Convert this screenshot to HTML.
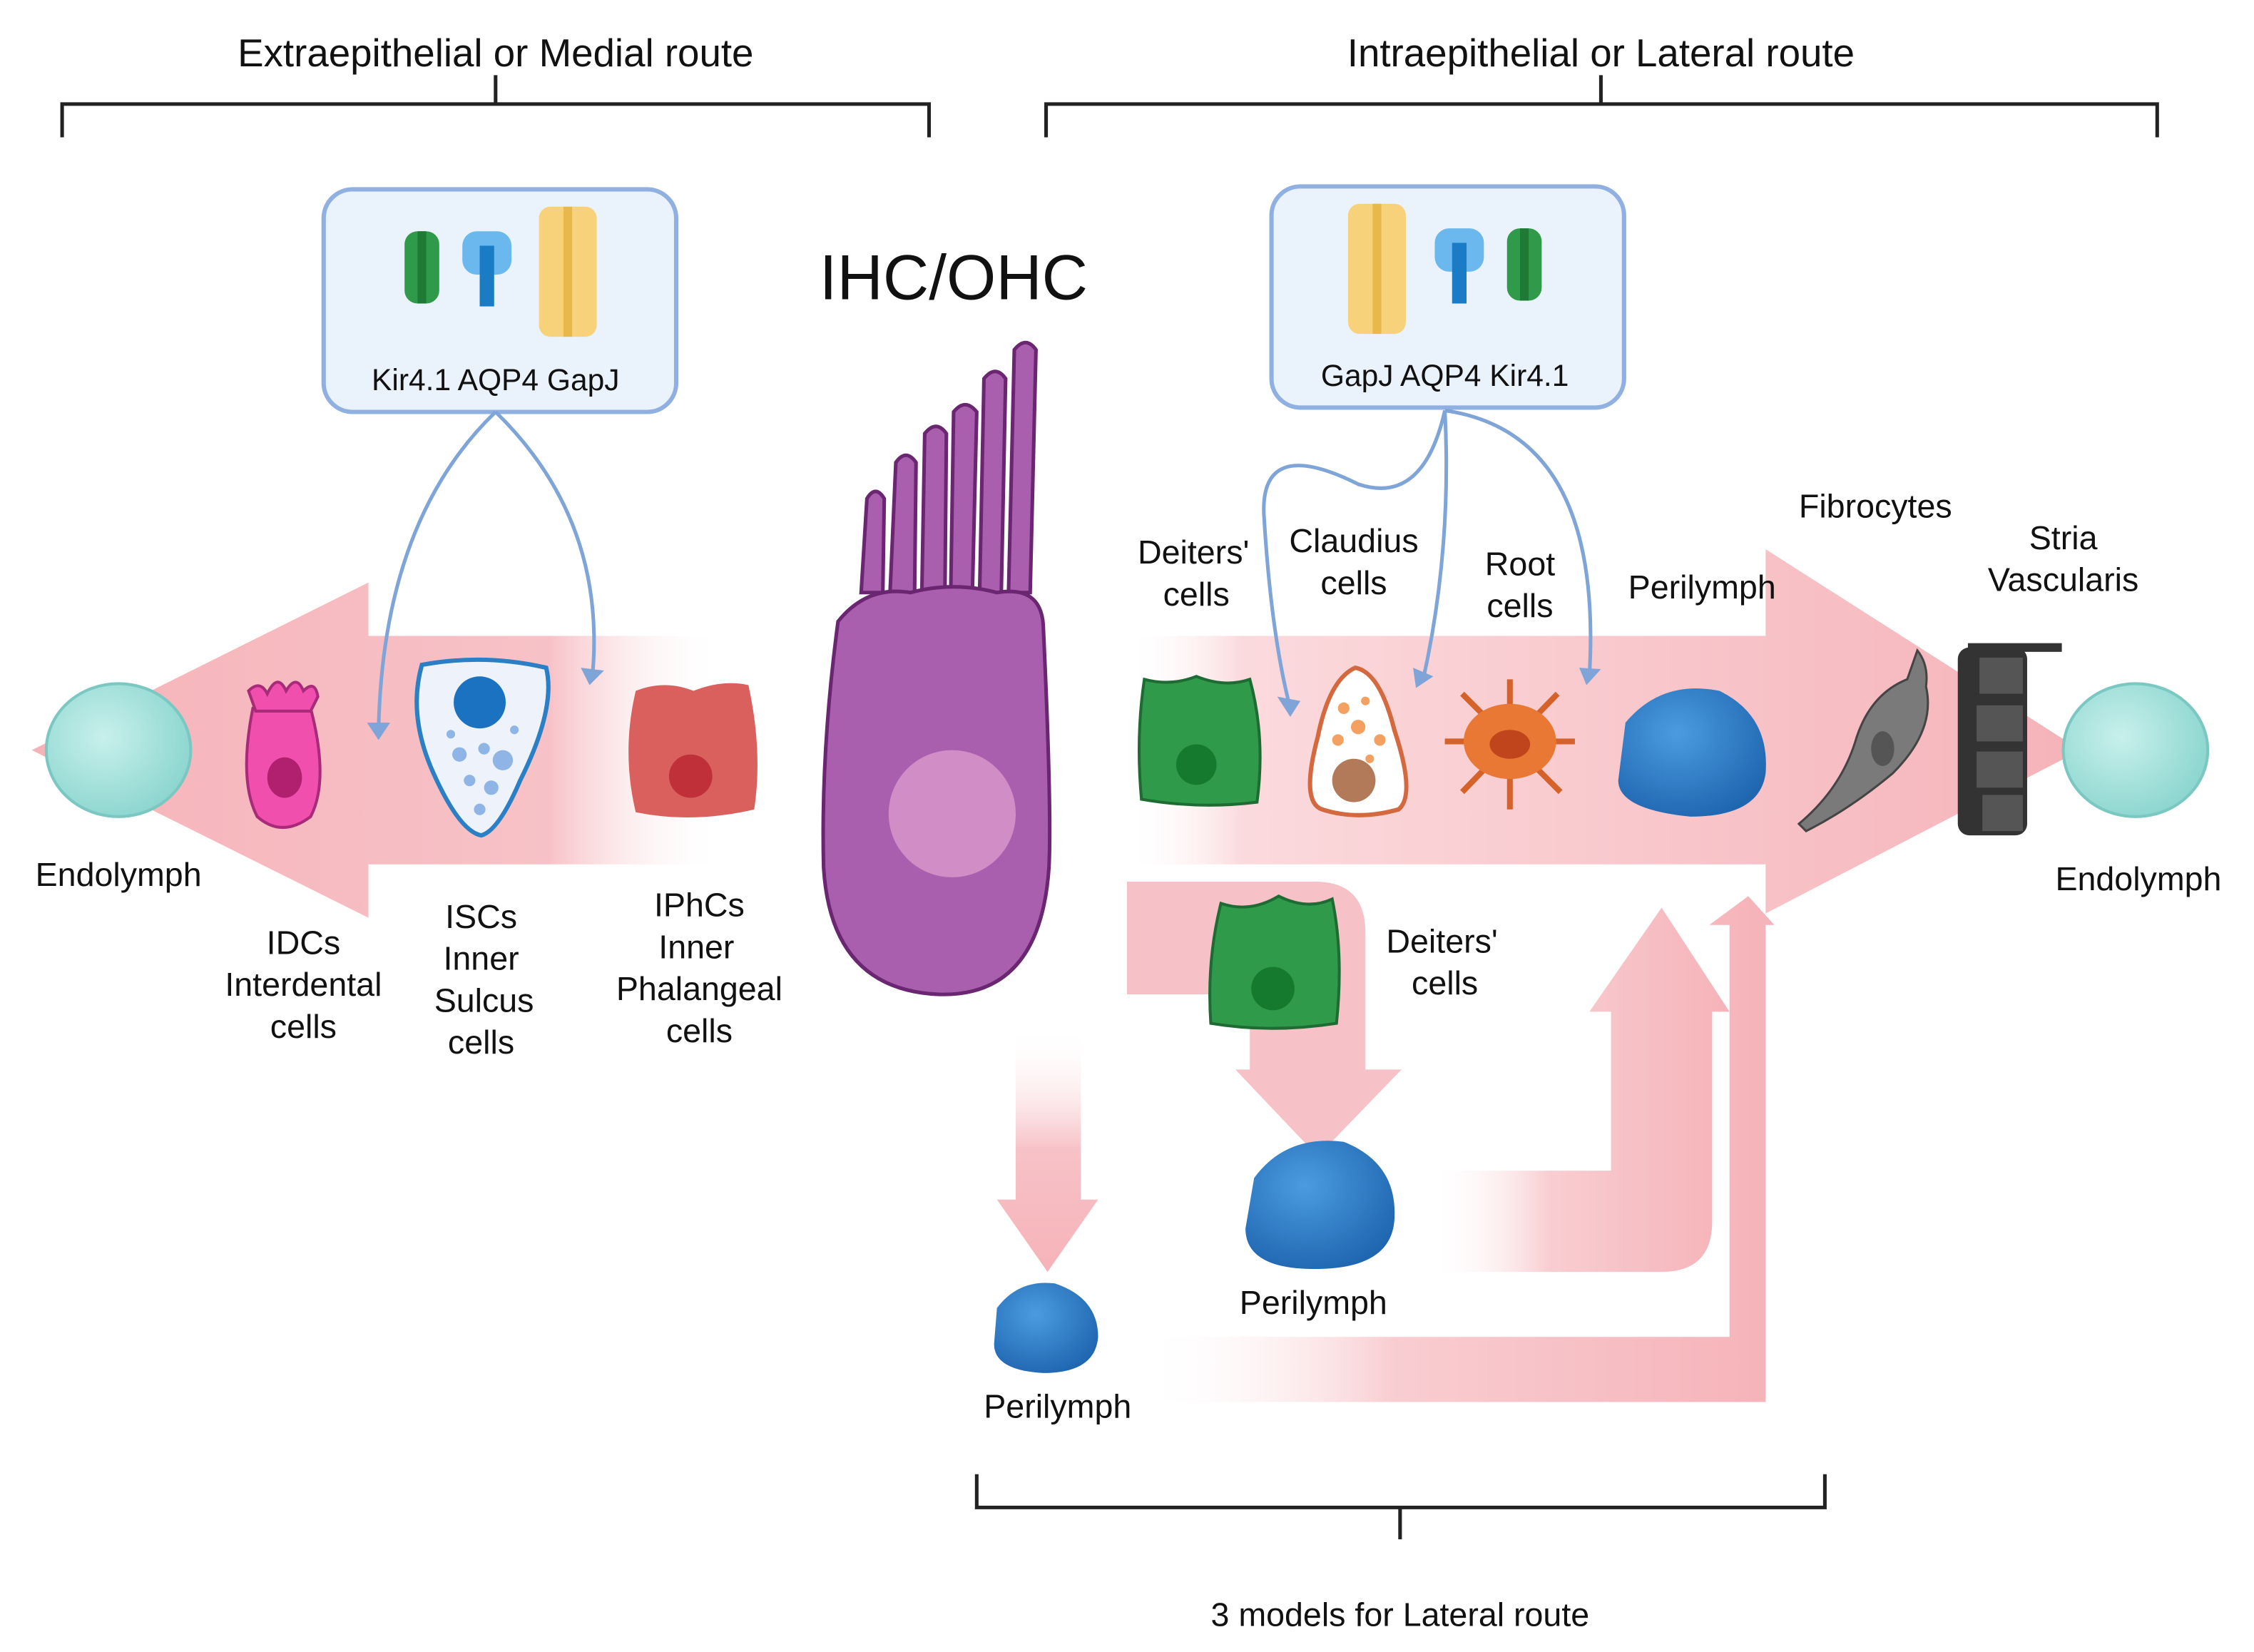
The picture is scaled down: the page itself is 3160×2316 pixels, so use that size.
<!DOCTYPE html>
<html><head><meta charset="utf-8"><style>
html,body{margin:0;padding:0;background:#fff}
svg{display:block}
text{font-family:"Liberation Sans",Arial,sans-serif;fill:#111}
</style></head><body>
<svg width="3160" height="2316" viewBox="0 0 1560 1143" preserveAspectRatio="none" xmlns="http://www.w3.org/2000/svg">
<defs>
<linearGradient id="gl" x1="0" x2="1" y1="0" y2="0"><stop offset="0" stop-color="#f5b3b9"/><stop offset="0.75" stop-color="#f7c2c7"/><stop offset="1" stop-color="#fff" stop-opacity="0"/></linearGradient>
<linearGradient id="gr" x1="0" x2="1" y1="0" y2="0"><stop offset="0" stop-color="#fff" stop-opacity="0"/><stop offset="0.12" stop-color="#fbdadd"/><stop offset="1" stop-color="#f5b3b9"/></linearGradient>
<linearGradient id="gv" x1="0" x2="0" y1="0" y2="1"><stop offset="0" stop-color="#fff" stop-opacity="0"/><stop offset="0.5" stop-color="#f7c2c7"/><stop offset="1" stop-color="#f5b3b9"/></linearGradient>
<linearGradient id="gh" x1="0" x2="1" y1="0" y2="0"><stop offset="0" stop-color="#fff" stop-opacity="0"/><stop offset="0.4" stop-color="#f8cdd1"/><stop offset="1" stop-color="#f5b3b9"/></linearGradient>
<radialGradient id="endo" cx="0.4" cy="0.4" r="0.7"><stop offset="0" stop-color="#c8f0ec"/><stop offset="1" stop-color="#86d3cc"/></radialGradient>
<radialGradient id="blue" cx="0.4" cy="0.35" r="0.7"><stop offset="0" stop-color="#4b9be0"/><stop offset="1" stop-color="#1f66b0"/></radialGradient>
</defs>
<!-- titles & brackets -->
<text x="343" y="46" font-size="27" text-anchor="middle">Extraepithelial or Medial route</text>
<path d="M43 95V72H643V95M343 72V52" fill="none" stroke="#222" stroke-width="2.5"/>
<text x="1108" y="46" font-size="27" text-anchor="middle">Intraepithelial or Lateral route</text>
<path d="M724 95V72H1493V95M1108 72V52" fill="none" stroke="#222" stroke-width="2.5"/>
<!-- left arrow -->
<path d="M500 440H255V403L22 519L255 635V598H500Z" fill="url(#gl)"/>
<!-- right arrow -->
<path d="M780 440H1222V380L1440 519L1222 632V598H780Z" fill="url(#gr)"/>
<!-- lower flows -->
<path d="M703 710H748V830H760L725 880L690 830H703Z" fill="url(#gv)"/>
<path d="M790 925H1197V640H1183L1210 620L1228 640H1222V970H790Z" fill="url(#gh)"/>
<path d="M780 610H910Q945 610 945 645V740H970L912 800L855 740H865V688H780Z" fill="#f7c2c7"/>
<path d="M990 810H1115V700H1100L1150 628L1197 700H1185V845Q1185 880 1150 880H990Z" fill="url(#gh)"/>
<!-- boxes -->
<rect x="224" y="131" width="244" height="154" rx="20" fill="#eaf2fb" stroke="#8fb0e0" stroke-width="3"/>
<rect x="880" y="129" width="244" height="153" rx="20" fill="#eaf2fb" stroke="#8fb0e0" stroke-width="3"/>
<text x="343" y="270" font-size="21" text-anchor="middle">Kir4.1 AQP4 GapJ</text>
<text x="1000" y="267" font-size="21" text-anchor="middle">GapJ AQP4 Kir4.1</text>
<!-- channel icons left -->
<g><rect x="280" y="160" width="24" height="50" rx="9" fill="#2f9a4a"/><rect x="289" y="160" width="6" height="50" fill="#1f7a36"/></g>
<g><rect x="320" y="160" width="34" height="30" rx="10" fill="#6ab8ee"/><rect x="332" y="170" width="10" height="42" fill="#1a7cc4"/></g>
<g><rect x="373" y="143" width="40" height="90" rx="8" fill="#f7d27a"/><rect x="390" y="143" width="6" height="90" fill="#e8b94a"/></g>
<!-- right -->
<g><rect x="933" y="141" width="40" height="90" rx="8" fill="#f7d27a"/><rect x="950" y="141" width="6" height="90" fill="#e8b94a"/></g>
<g><rect x="993" y="158" width="34" height="30" rx="10" fill="#6ab8ee"/><rect x="1005" y="168" width="10" height="42" fill="#1a7cc4"/></g>
<g><rect x="1043" y="158" width="24" height="50" rx="9" fill="#2f9a4a"/><rect x="1052" y="158" width="6" height="50" fill="#1f7a36"/></g>
<!-- connector curves -->
<g fill="none" stroke="#7ea4d8" stroke-width="2.5">
<path d="M343 285Q265 360 262 505"/><path d="M343 285Q420 360 410 468"/>
<path d="M1000 284Q985 350 940 335Q870 300 875 360Q880 440 893 490"/>
<path d="M1000 284Q1005 380 985 470"/>
<path d="M1000 284Q1110 300 1100 468"/>
</g>
<g fill="#7ea4d8"><path d="M254 500L270 500L262 512Z"/><path d="M402 462L418 464L408 474Z"/><path d="M884 482L900 485L893 496Z"/><path d="M978 462L992 468L980 476Z"/><path d="M1093 462L1108 463L1098 474Z"/></g>
<!-- IHC text & hair cell -->
<text x="660" y="207" font-size="44" text-anchor="middle">IHC/OHC</text>
<g fill="#aa5fae" stroke="#6a2670" stroke-width="2.5">
<path d="M596 410L600 345Q606 335 612 345L611 410Z"/><path d="M616 410L620 320Q627 310 634 320L633 410Z"/>
<path d="M638 410L640 300Q648 290 655 300L654 410Z"/><path d="M658 410L660 285Q668 275 676 285L673 410Z"/>
<path d="M678 410L681 262Q689 252 696 262L693 410Z"/><path d="M698 410L702 242Q710 232 717 242L713 410Z"/>
<path d="M580 430Q600 405 630 410Q660 402 690 410Q720 405 722 432Q728 560 726 600Q720 690 650 688Q575 685 570 600Q568 520 580 430Z"/>
</g>
<circle cx="659" cy="563" r="44" fill="#d08dc6"/>
<!-- left cells -->
<ellipse cx="82" cy="519" rx="50" ry="46" fill="url(#endo)" stroke="#7ac8c1" stroke-width="2"/>
<path d="M175 490Q165 540 178 565Q195 580 215 565Q228 540 215 490Z" fill="#f04fae" stroke="#a82a78" stroke-width="2"/>
<path d="M172 478Q180 470 185 480Q192 465 198 478Q205 466 210 478Q218 470 220 482L215 492L177 492Z" fill="#f04fae" stroke="#a82a78" stroke-width="2"/>
<ellipse cx="197" cy="538" rx="12" ry="14" fill="#b0206e"/>
<path d="M292 460Q335 452 378 462Q385 490 360 540Q345 575 333 578Q318 575 300 535Q282 495 292 460Z" fill="#eef3fb" stroke="#2b7fc4" stroke-width="3"/>
<circle cx="332" cy="486" r="18" fill="#1a72c0"/>
<g fill="#8fb4e6"><circle cx="318" cy="522" r="5"/><circle cx="335" cy="518" r="4"/><circle cx="348" cy="526" r="7"/><circle cx="325" cy="540" r="4"/><circle cx="340" cy="545" r="5"/><circle cx="332" cy="560" r="4"/><circle cx="312" cy="508" r="3"/><circle cx="356" cy="505" r="3"/></g>
<path d="M440 478Q460 470 480 478Q500 470 518 474Q528 520 522 560Q480 570 440 562Q430 520 440 478Z" fill="#d9605d"/>
<circle cx="478" cy="537" r="15" fill="#c03038"/>
<!-- right cells -->
<path d="M792 470Q810 475 828 468Q848 476 865 470Q876 510 870 555Q830 560 790 553Q786 510 792 470Z" fill="#2f9a4a" stroke="#1e6b33" stroke-width="2"/>
<circle cx="828" cy="529" r="14" fill="#157a2e"/>
<path d="M938 462Q920 470 912 510Q900 555 915 560Q940 568 968 560Q980 550 965 505Q955 465 938 462Z" fill="#fff" stroke="#d4683e" stroke-width="3"/>
<circle cx="937" cy="540" r="15" fill="#b27a58"/>
<g fill="#f4a060"><circle cx="930" cy="490" r="4"/><circle cx="945" cy="485" r="3"/><circle cx="940" cy="503" r="5"/><circle cx="926" cy="512" r="4"/><circle cx="955" cy="512" r="4"/><circle cx="948" cy="525" r="3"/></g>
<g stroke="#d4622a" stroke-width="4"><path d="M1000 513H1090M1045 470V560M1012 480L1080 548M1078 480L1012 548"/></g>
<ellipse cx="1045" cy="513" rx="32" ry="26" fill="#e87833"/>
<ellipse cx="1045" cy="515" rx="14" ry="10" fill="#c0451c"/>
<path d="M1125 500Q1150 470 1190 478Q1225 495 1222 535Q1218 565 1170 565Q1120 560 1120 540Z" fill="url(#blue)"/>
<path d="M1245 570Q1275 545 1285 510Q1295 480 1320 470L1327 450Q1335 460 1333 475Q1340 505 1310 535Q1280 560 1250 575Z" fill="#7a7a7a" stroke="#444" stroke-width="1.5"/>
<ellipse cx="1303" cy="518" rx="8" ry="12" fill="#555"/>
<g fill="#333"><rect x="1355" y="448" width="48" height="130" rx="8"/><rect x="1362" y="445" width="65" height="6"/></g>
<g fill="#555"><rect x="1370" y="455" width="30" height="25"/><rect x="1368" y="488" width="32" height="25"/><rect x="1368" y="520" width="32" height="25"/><rect x="1372" y="550" width="28" height="25"/></g>
<ellipse cx="1478" cy="519" rx="50" ry="46" fill="url(#endo)" stroke="#7ac8c1" stroke-width="2"/>
<!-- lower cells -->
<path d="M845 625Q865 632 885 620Q905 630 922 622Q930 660 925 708Q880 715 838 708Q835 665 845 625Z" fill="#2f9a4a" stroke="#1e6b33" stroke-width="2"/>
<circle cx="881" cy="684" r="15" fill="#157a2e"/>
<path d="M868 815Q890 785 930 790Q968 805 965 845Q962 878 910 878Q862 878 862 850Z" fill="url(#blue)"/>
<path d="M690 905Q705 885 730 888Q760 898 760 925Q758 950 722 950Q688 948 688 930Z" fill="url(#blue)"/>
<!-- labels -->
<g font-size="23" text-anchor="middle">
<text x="82" y="613">Endolymph</text>
<text x="210" y="660">IDCs</text><text x="210" y="689">Interdental</text><text x="210" y="718">cells</text>
<text x="333" y="642">ISCs</text><text x="333" y="671">Inner</text><text x="335" y="700">Sulcus</text><text x="333" y="729">cells</text>
<text x="484" y="634">IPhCs</text><text x="482" y="663">Inner</text><text x="484" y="692">Phalangeal</text><text x="484" y="721">cells</text>
<text x="826" y="390">Deiters'</text><text x="828" y="419">cells</text>
<text x="937" y="382">Claudius</text><text x="937" y="411">cells</text>
<text x="1052" y="398">Root</text><text x="1052" y="427">cells</text>
<text x="1178" y="414">Perilymph</text>
<text x="1298" y="358">Fibrocytes</text>
<text x="1428" y="380">Stria</text><text x="1428" y="409">Vascularis</text>
<text x="1480" y="616">Endolymph</text>
<text x="998" y="659">Deiters'</text><text x="1000" y="688">cells</text>
<text x="909" y="909">Perilymph</text>
<text x="732" y="981">Perilymph</text>
<text x="969" y="1125">3 models for Lateral route</text>
</g>
<path d="M676 1020V1043H1263V1020M969 1043V1065" fill="none" stroke="#222" stroke-width="2.5"/>
</svg>
</body></html>
